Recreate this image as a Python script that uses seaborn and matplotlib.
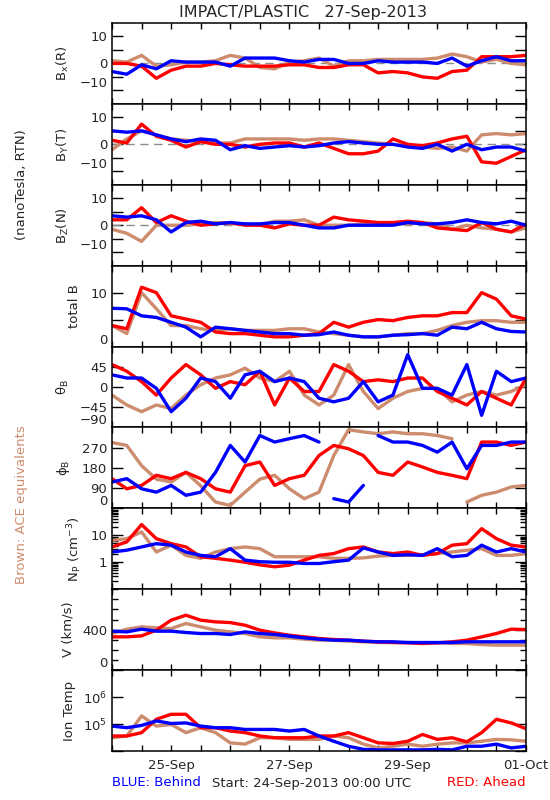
import numpy as np
import pandas as pd
import matplotlib
matplotlib.use("Agg")
import matplotlib.pyplot as plt
import seaborn as sns
from matplotlib.ticker import LogLocator, NullFormatter, MultipleLocator

# sample times: days after 24-Sep-2013 00:00, every 6 hours
days = np.arange(0, 7.01, 0.25)

# B components (nT, RTN)
bx_ace = [1, 0.5, 3, -1, -0.5, 0.5, 0.5, 1, 3, 2, -1.5, -2, 0.5, 1, 2, -1, 1, 1, 1.5, 1.5, 1.5, 1.5, 2, 3.5, 2.5, 0.5, 1.5, 0, -0.5]
bx_ahead = [0, 0, -1, -5.5, -2.5, -1, -1, 0, -0.5, -1, -1, -1, -0.5, -0.5, -1.5, -1.5, -0.5, -0.5, -3.5, -3, -3.5, -5, -5.5, -3, -2.5, 2.5, 2.5, 2.5, 3]
bx_behind = [-3, -4, -0.5, -2, 1, 0.5, 0.5, 0.5, -1, 2, 2, 2, 1, 0.5, 1.5, 1.5, 0, 0, 1, 0.5, 0.5, 0.5, 0, 2, -1, 1, 2.5, 1, 1]

by_ace = [-2, 2, 5, 3.5, 2, 1.5, 1, 0.5, 0.5, 2, 2, 2, 2, 1.5, 2, 2, 1.5, 1, 0.5, 0, -0.5, -1, -1.5, -1, -2.5, 3.5, 4, 3.5, 4]
by_ahead = [1.5, 0.5, 7.5, 3, 1.5, -1, 1, 0, 0, -1, 0, 0.5, 0.5, -1, 0.5, -1.5, -3.5, -3.5, -2.5, 2, 0, -0.5, 0.5, 2, 3, -6.5, -7, -4.5, -2]
by_behind = [5, 4.5, 5, 3.5, 2, 1, 2, 1.5, -2, -0.5, -1.5, -1, -0.5, -1, -0.5, 0.5, 1, 0.5, 0, 0, -1, -1.5, 0, -2.5, 0, -2, -1, -1, -2.5]

bz_ace = [-1.5, -3, -6, 0, 0, 0, 0.5, 1, 0.5, 0.5, 0, 1.5, 1.5, 2, 0, 0, 0, 0.5, 0.5, 0.5, 0.5, 1, 0.5, -1.5, 0, -1, -1.5, -2.5, -1]
bz_ahead = [2, 2, 6.5, 1, 3.5, 1.5, 0, 0.5, 1, 0, 0, -1, 0.5, 0, 0, 3, 2, 1.5, 1, 1, 1.5, 1, -1, -1.5, -2, 1, -1.5, -2.5, 0.5]
bz_behind = [3.5, 3, 3.5, 2, -2.5, 1, 1.5, 0.5, 1, 0.5, 0.5, 1, 1, 0, -1, -1, 0, 0, 0, 0, 1, 0.5, 0.5, 1, 2, 1, 0.5, 1.5, 0]

totb_ace = [3.9, 2.4, 10, 7, 3.9, 3.9, 3.3, 3.0, 3.3, 3.0, 3.0, 3.0, 3.3, 3.3, 2.7, 2.4, 2.1, 1.8, 1.8, 2.1, 2.4, 2.4, 3.0, 3.9, 4.5, 4.8, 4.8, 4.5, 4.5]
totb_ahead = [3.9, 3.3, 11, 10, 5.7, 5.1, 4.5, 2.7, 2.4, 2.4, 2.1, 1.8, 1.8, 2.1, 2.4, 4.5, 3.6, 4.5, 5.0, 4.8, 5.4, 5.7, 5.7, 6.3, 6.3, 10, 8.8, 5.7, 5.1]
totb_behind = [7.1, 7.0, 5.7, 5.4, 4.5, 3.6, 1.8, 3.6, 3.3, 3.0, 2.7, 2.4, 2.4, 2.1, 2.2, 2.7, 2.1, 1.8, 1.8, 2.1, 2.2, 2.4, 2.1, 3.6, 3.3, 4.5, 3.3, 2.8, 2.7]

# field angles (deg)
th_ace = [-18, -40, -55, -40, -48, -18, 5, 20, 27, 42, 20, 12, 35, -18, -40, -18, 50, -10, -48, -25, -10, -3, -3, -33, -18, -10, -18, -10, 5]
th_ahead = [50, 35, 12, -18, 20, 50, 27, -3, 12, 5, 35, -40, 20, -10, -10, 50, 35, 12, 16, 12, 20, 20, -10, -25, -40, -10, -25, -40, 20]
th_behind = [27, 20, 20, -3, -55, -25, 20, 12, -25, 27, 35, 12, 20, 12, -25, -33, -25, 12, -33, -18, 72, -3, -3, -18, 50, -63, 35, 12, 20]

ph_ace = [293, 280, 190, 130, 117, 160, 100, 28, 13, 72, 130, 147, 87, 43, 72, 235, 350, 340, 332, 340, 332, 332, 324, 310, 28, 58, 72, 95, 102]
ph_ahead = [132, 87, 102, 147, 132, 160, 132, 87, 72, 190, 206, 102, 132, 147, 235, 280, 265, 235, 160, 147, 206, 184, 160, 147, 132, 295, 295, 280, 295]
ph_behind = [117, 132, 87, 72, 102, 58, 72, 160, 280, 206, 324, 295, 310, 324, 295, 43, 28, 102, 324, 295, 295, 280, 250, 295, 176, 280, 280, 295, 295]

# plasma
np_ace = [6.5, 7.5, 13.3, 2.4, 4.3, 1.8, 1.4, 2.4, 3.2, 3.7, 3.2, 1.6, 1.6, 1.6, 1.6, 1.4, 1.4, 1.45, 1.7, 1.8, 1.8, 1.9, 2.1, 2.4, 2.8, 3.2, 1.8, 1.8, 2.1]
np_ahead = [3.7, 5.7, 25, 7.5, 4.9, 3.7, 1.6, 1.4, 1.2, 1.0, 0.8, 0.68, 0.78, 1.2, 1.8, 2.1, 3.2, 3.7, 2.4, 2.1, 2.4, 1.8, 2.1, 4.3, 4.9, 17.6, 7.5, 4.3, 3.7]
np_behind = [2.4, 2.8, 3.7, 4.9, 4.3, 2.4, 1.8, 1.6, 3.2, 1.2, 1.05, 1.0, 1.0, 0.9, 0.9, 1.05, 1.2, 3.4, 2.4, 1.8, 1.9, 1.8, 3.2, 1.6, 1.8, 4.3, 2.4, 3.2, 2.4]

v_ace = [362, 405, 428, 418, 411, 461, 428, 395, 378, 362, 329, 319, 319, 306, 296, 296, 286, 280, 273, 273, 273, 270, 270, 263, 263, 253, 247, 247, 247]
v_ahead = [329, 329, 339, 395, 494, 543, 494, 477, 470, 444, 395, 368, 345, 329, 313, 303, 296, 286, 280, 273, 270, 263, 270, 280, 296, 329, 362, 405, 401]
v_behind = [385, 378, 405, 385, 385, 372, 362, 362, 352, 378, 362, 352, 336, 319, 306, 296, 296, 286, 280, 280, 273, 273, 273, 273, 280, 280, 280, 280, 280]

temp_ace = [3.1e4, 3.6e4, 2.0e5, 8.4e4, 9.7e4, 4.8e4, 7.3e4, 4.8e4, 2.0e4, 1.8e4, 3.1e4, 3.1e4, 2.7e4, 2.7e4, 2.7e4, 3.6e4, 3.1e4, 1.8e4, 1.3e4, 1.5e4, 1.8e4, 1.5e4, 1.8e4, 2.0e4, 2.0e4, 2.3e4, 2.7e4, 2.6e4, 2.3e4]
temp_ahead = [3.6e4, 3.6e4, 4.8e4, 1.5e5, 2.3e5, 2.3e5, 7.3e4, 7.3e4, 5.5e4, 4.8e4, 3.6e4, 3.1e4, 3.1e4, 3.1e4, 3.6e4, 3.6e4, 4.8e4, 3.1e4, 2.0e4, 1.9e4, 2.3e4, 4.1e4, 2.7e4, 3.1e4, 2.2e4, 4.8e4, 1.5e5, 1.1e5, 6.7e4]
temp_behind = [8.4e4, 7.3e4, 8.9e4, 1.3e5, 1.05e5, 1.1e5, 8.4e4, 7.3e4, 7.3e4, 6.3e4, 6.3e4, 6.3e4, 5.5e4, 6.3e4, 3.6e4, 2.3e4, 1.5e4, 1.15e4, 1.1e4, 1.1e4, 1.1e4, 1.1e4, 1.15e4, 1.1e4, 1.5e4, 1.5e4, 1.8e4, 1.3e4, 1.5e4]

date_labels = {1: "25-Sep", 3: "27-Sep", 5: "29-Sep", 7: "01-Oct"}

PALETTE = {"ACE": "#CD8C6E", "Ahead": "#FF0000", "Behind": "#0000FF"}
ORDER = ["ACE", "Ahead", "Behind"]


def long_frame(ace, ahead, behind, wrap=False):
    parts = []
    for craft, vals in zip(ORDER, (ace, ahead, behind)):
        part = pd.DataFrame({"day": days, "value": vals, "craft": craft})
        if wrap:
            # break the line where the angle wraps round 0/360
            part["seg"] = (part["value"].diff().abs() > 180).cumsum()
        else:
            part["seg"] = 0
        parts.append(part)
    return pd.concat(parts, ignore_index=True)


# label, data, ylim, ticks, ticklabels, log, label centre x (px), zero line, wrap
panels = [
    ("B$_x$(R)", (bx_ace, bx_ahead, bx_behind), (-15, 15), [-10, -5, 0, 5, 10], ["\u221210", "", "0", "", "10"], False, 63, True, False),
    ("B$_Y$(T)", (by_ace, by_ahead, by_behind), (-15, 15), [-10, -5, 0, 5, 10], ["\u221210", "", "0", "", "10"], False, 63, True, False),
    ("B$_Z$(N)", (bz_ace, bz_ahead, bz_behind), (-15, 15), [-10, -5, 0, 5, 10], ["\u221210", "", "0", "", "10"], False, 63, True, False),
    ("total B", (totb_ace, totb_ahead, totb_behind), (0, 15), [0, 5, 10], ["0", "", "10"], False, 74, False, False),
    ("$\\theta_B$", (th_ace, th_ahead, th_behind), (-90, 90), [-90, -45, 0, 45], ["\u221290", "\u221245", "0", "45"], False, 63, False, False),
    ("$\\phi_B$", (ph_ace, ph_ahead, ph_behind), (0, 360), [0, 90, 180, 270], ["0", "90", "180", "270"], False, 63, False, True),
    ("N$_P$ (cm$^{-3}$)", (np_ace, np_ahead, np_behind), (0.1, 100), [0.1, 1, 10, 100], ["", "1", "10", ""], True, 75, False, False),
    ("V (km/s)", (v_ace, v_ahead, v_behind), (0, 800), [0, 400], ["0", "400"], False, 68, False, False),
    ("Ion Temp", (temp_ace, temp_ahead, temp_behind), (1e4, 1e7), [1e4, 1e5, 1e6, 1e7], ["", "10$^5$", "10$^6$", ""], True, 70, False, False),
]

sns.set_theme(style="ticks")
plt.rcParams["font.family"] = ["DejaVu Sans"]
plt.rcParams["mathtext.default"] = "regular"
plt.rcParams["axes.edgecolor"] = "black"
plt.rcParams["axes.linewidth"] = 1.1

W, H = 550, 800
L, R, T, B = 112, 526, 23, 751
fig = plt.figure(figsize=(W / 100, H / 100), dpi=100)
axes = fig.subplots(len(panels), 1, sharex=True, gridspec_kw=dict(hspace=0))
fig.subplots_adjust(left=L / W, right=R / W, top=1 - T / H, bottom=1 - B / H)

for ax, (label, series, ylim, ticks, ticklabels, logy, lab_x, zero, wrap) in zip(axes, panels):
    df = long_frame(*series, wrap=wrap)
    if logy:
        ax.set_yscale("log")
    if zero:
        ax.axhline(0, color="#8c8c8c", ls=(0, (6, 4)), lw=1, zorder=1)
    sns.lineplot(data=df, x="day", y="value", hue="craft", hue_order=ORDER,
                 palette=PALETTE, units="seg", estimator=None, legend=False,
                 lw=2.4, ax=ax, zorder=2)
    ax.set_ylim(*ylim)
    ax.set_yticks(ticks)
    ax.set_yticklabels(ticklabels)
    if logy:
        ax.yaxis.set_minor_locator(LogLocator(base=10, subs=np.arange(2, 10)))
        ax.yaxis.set_minor_formatter(NullFormatter())
    elif label.startswith("V"):
        ax.yaxis.set_minor_locator(MultipleLocator(100))
    # the lowest label sits just above the bottom edge
    first = ax.yaxis.get_major_ticks()[0]
    first.label1.set_verticalalignment("bottom")

    ax.set_ylabel(label, fontsize=9.5, va="center", ha="center")
    ax.yaxis.set_label_coords((lab_x - L) / (R - L), 0.5)
    ax.set_xlabel("")

    ax.set_xlim(0, 7)
    ax.set_xticks(np.arange(0, 7.01, 0.5))
    ax.tick_params(axis="both", which="both", direction="in", top=True, right=True,
                   labelsize=9.5, color="black", width=1)
    ax.tick_params(axis="x", which="major", length=4)
    ax.tick_params(axis="y", which="major", length=8)
    ax.tick_params(axis="y", which="minor", length=4)
    for spine in ax.spines.values():
        spine.set_visible(True)
        spine.set_color("black")

axes[-1].set_xticklabels([date_labels.get(int(d), "") if float(d).is_integer() else ""
                          for d in np.arange(0, 7.01, 0.5)])
axes[-1].tick_params(axis="x", pad=6)

fig.text(303 / W, 1 - 12 / H, "IMPACT/PLASTIC   27-Sep-2013", ha="center", va="center", fontsize=11.5)
fig.text(22 / W, 1 - 185 / H, "(nanoTesla, RTN)", rotation=90, ha="center", va="center", fontsize=9.5)
fig.text(22 / W, 1 - 505 / H, "Brown: ACE equivalents", rotation=90, ha="center", va="center",
         fontsize=9.5, color=PALETTE["ACE"])
fig.text(L / W, 1 - 783 / H, "BLUE: Behind", ha="left", va="center", fontsize=9.5, color=PALETTE["Behind"])
fig.text(212 / W, 1 - 783 / H, "Start: 24-Sep-2013 00:00 UTC", ha="left", va="center", fontsize=9.5)
fig.text(R / W, 1 - 783 / H, "RED: Ahead", ha="right", va="center", fontsize=9.5, color=PALETTE["Ahead"])

fig.savefig("out.png", dpi=100)
